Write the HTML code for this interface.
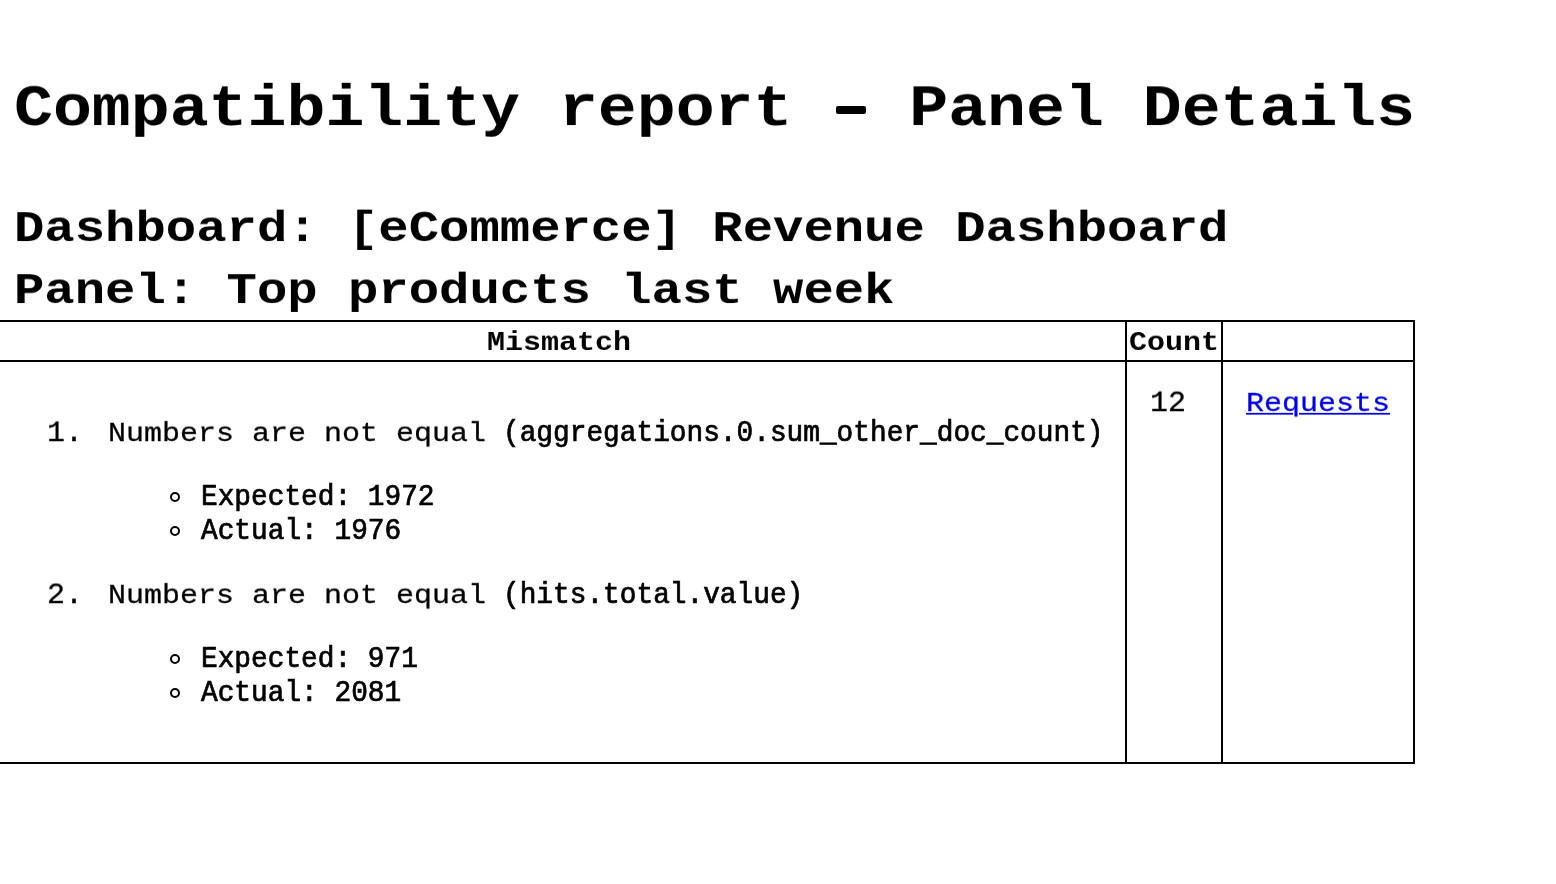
<!DOCTYPE html>
<html>
<head>
<meta charset="utf-8">
<title>Compatibility report - Panel Details</title>
<style>
html,body{margin:0;padding:0;background:#fff;}
body{width:1556px;height:884px;position:relative;overflow:hidden;font-family:"Liberation Mono",monospace;color:#000;}
.t{will-change:transform;position:absolute;white-space:pre;line-height:1;margin:0;padding:0;font-weight:normal;}
.b{font-weight:bold;}
.c{transform-origin:0 76.69%;transform:scaleY(0.9);}
.c2{transform-origin:0 76.69%;transform:scaleY(0.875);}
.m{transform-origin:0 76.69%;transform:scaleY(1.045);-webkit-text-stroke:0.7px #000;}
.d{transform-origin:0 76.69%;transform:scaleY(0.97);}
.ln{position:absolute;background:#000;}
.dot{position:absolute;box-sizing:border-box;border:2px solid #000;border-radius:50%;width:10px;height:10px;}
a{color:#0000ee;text-decoration:underline;text-decoration-thickness:2.1px;text-underline-offset:2px;-webkit-text-stroke:0.3px #0000ee;}
.r{-webkit-text-stroke:0.3px #000;}
</style>
</head>
<body>
<h1 class="t b c" style="left:14px;top:75.7px;font-size:64.87px;">Compatibility report   Panel Details</h1>
<div class="ln" style="left:836.4px;top:106px;width:30.1px;height:7.8px;border-radius:2px;"></div>
<h2 class="t b c2" style="left:13.6px;top:203.3px;font-size:50.6px;">Dashboard: [eCommerce] Revenue Dashboard</h2>
<h2 class="t b c2" style="left:13.6px;top:265px;font-size:50.6px;">Panel: Top products last week</h2>

<!-- table borders -->
<div class="ln" style="left:0;top:320px;width:1415px;height:2px;"></div>
<div class="ln" style="left:0;top:360px;width:1415px;height:2px;"></div>
<div class="ln" style="left:0;top:762px;width:1415px;height:2px;"></div>
<div class="ln" style="left:1125px;top:320px;width:2px;height:444px;"></div>
<div class="ln" style="left:1221px;top:320px;width:2px;height:444px;"></div>
<div class="ln" style="left:1413px;top:320px;width:2px;height:444px;"></div>

<!-- header -->
<div class="t b c" style="left:486.5px;top:327px;font-size:30px;">Mismatch</div>
<div class="t b c" style="left:1129px;top:327px;font-size:30px;">Count</div>

<!-- row -->
<div class="t d r" style="left:46.5px;top:418px;font-size:30px;">1.</div>
<div class="t c r" style="left:108px;top:418px;font-size:30px;">Numbers are not equal </div>
<div class="t m" style="left:502.5px;top:419.6px;font-size:27.8px;">(aggregations.0.sum_other_doc_count)</div>
<div class="dot" style="left:170px;top:492px;"></div>
<div class="t m" style="left:201px;top:484px;font-size:27.8px;">Expected: 1972</div>
<div class="dot" style="left:170px;top:526px;"></div>
<div class="t m" style="left:201px;top:518px;font-size:27.8px;">Actual: 1976</div>

<div class="t d r" style="left:46.5px;top:580px;font-size:30px;">2.</div>
<div class="t c r" style="left:108px;top:580px;font-size:30px;">Numbers are not equal </div>
<div class="t m" style="left:502.5px;top:581.6px;font-size:27.8px;">(hits.total.value)</div>
<div class="dot" style="left:170px;top:654px;"></div>
<div class="t m" style="left:201px;top:646px;font-size:27.8px;">Expected: 971</div>
<div class="dot" style="left:170px;top:688px;"></div>
<div class="t m" style="left:201px;top:680px;font-size:27.8px;">Actual: 2081</div>

<div class="t d r" style="left:1149.7px;top:388px;font-size:30px;">12</div>
<div class="t c r" style="left:1246px;top:388px;font-size:30px;"><a>Requests</a></div>
</body>
</html>
